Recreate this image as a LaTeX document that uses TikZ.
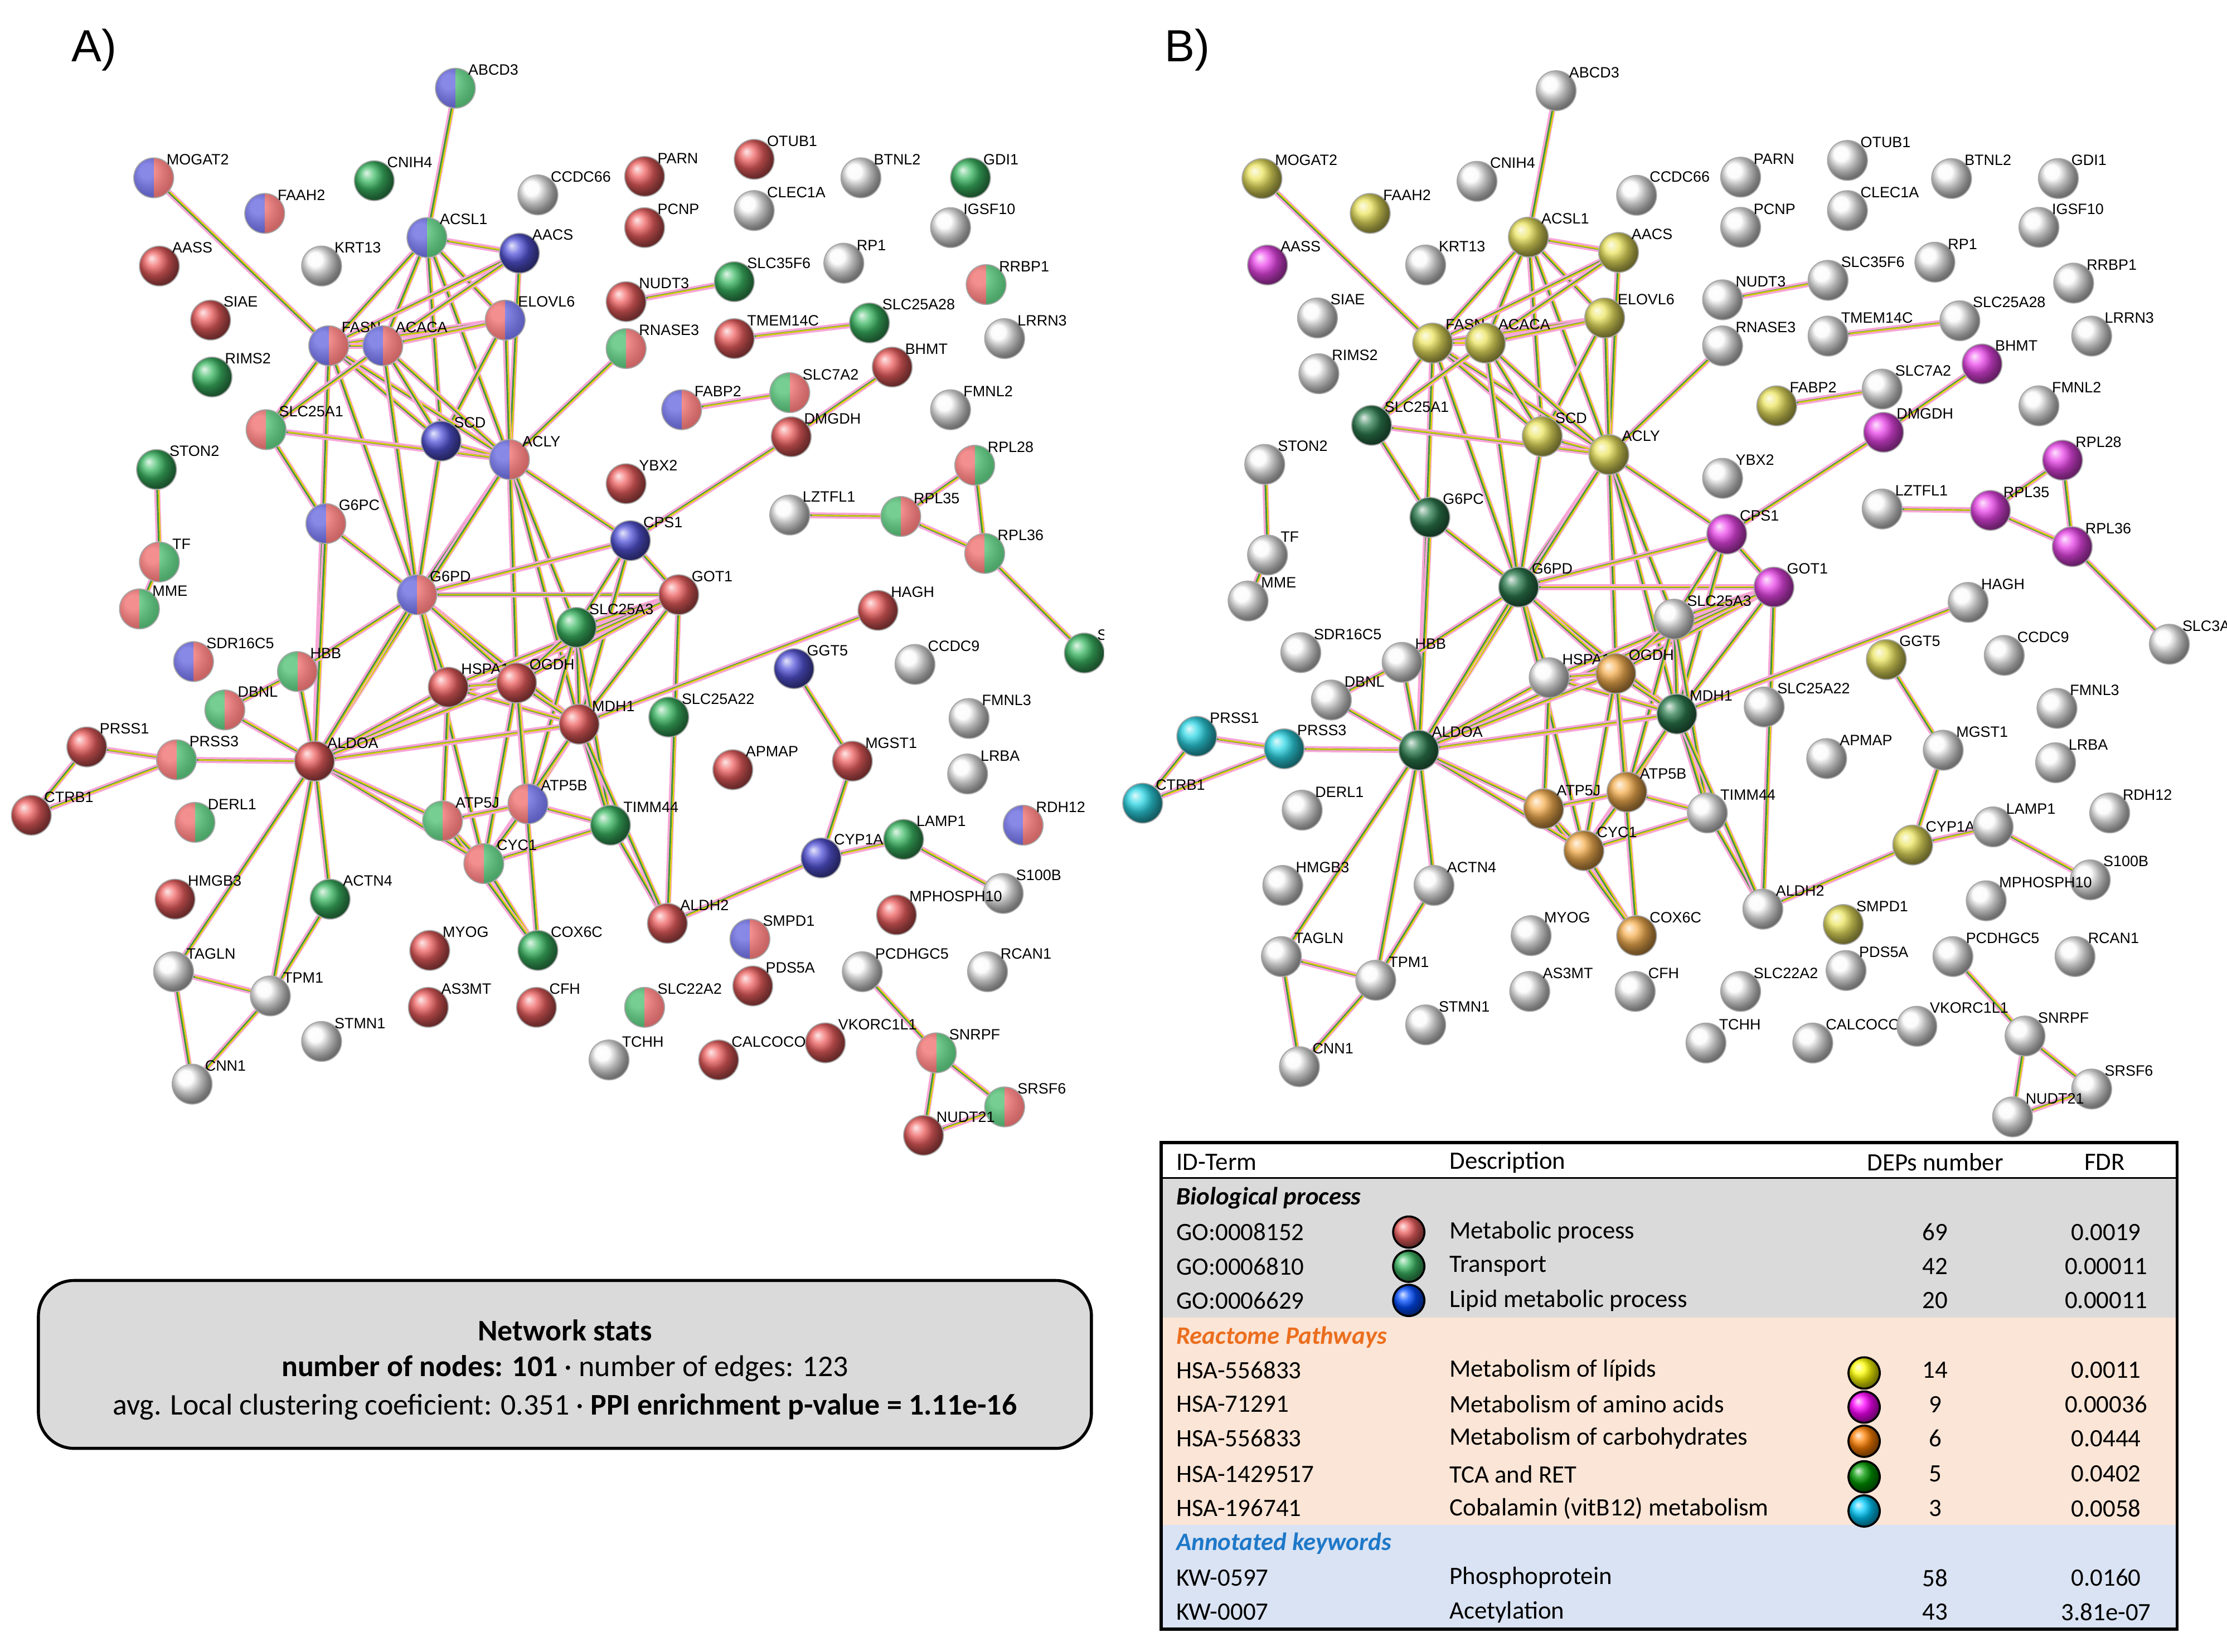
\documentclass[tikz,border=0pt]{standalone}
\usepackage{fontspec}
\setmainfont{Carlito}
\newfontfamily\lab{Liberation Sans}
\usetikzlibrary{backgrounds}
\definecolor{nr}{RGB}{238,95,95}\definecolor{ng}{RGB}{60,185,100}\definecolor{nb}{RGB}{85,85,220}
\definecolor{nw}{RGB}{250,250,250}\definecolor{ny}{RGB}{235,228,95}\definecolor{nm}{RGB}{235,70,235}
\definecolor{no}{RGB}{245,175,80}\definecolor{nd}{RGB}{45,125,80}\definecolor{nc}{RGB}{45,215,230}
\definecolor{bandg}{RGB}{218,218,218}\definecolor{bando}{RGB}{251,229,214}\definecolor{bandb}{RGB}{218,227,243}
\definecolor{reacto}{RGB}{235,110,30}\definecolor{kwb}{RGB}{30,120,200}
\newif\ifB
\tikzset{
 nd/.style={circle,minimum size=0.28cm,inner sep=0pt,draw=gray!70,line width=0.2pt},
 lbl/.style={font=\lab\fontsize{3}{4}\selectfont,anchor=south west,inner sep=0.5pt},
 edge/.style={draw=green!45!black!75,line width=0.35pt,preaction={draw=magenta!35,line width=1.2pt},
   postaction={draw=yellow!70!olive,line width=0.25pt,transform canvas={xshift=0.3pt}}},
 sp/.style 2 args={path picture={\fill[#1] (path picture bounding box.south west) rectangle (path picture bounding box.north);
   \fill[#2] (path picture bounding box.north) rectangle (path picture bounding box.south east);
   \shade[ball color=white,opacity=0.3] (path picture bounding box.center) circle (0.14cm);}},
 kr/.style={ball color=nr},kg/.style={ball color=ng},kb/.style={ball color=nb},kw/.style={ball color=nw},
 ky/.style={ball color=ny},km/.style={ball color=nm},ko/.style={ball color=no},kd/.style={ball color=nd},kc/.style={ball color=nc},
 krg/.style={sp={nr}{ng}},kgr/.style={sp={ng}{nr}},krb/.style={sp={nr}{nb}},kbr/.style={sp={nb}{nr}},
 kbg/.style={sp={nb}{ng}},kgb/.style={sp={ng}{nb}},
 tcirc/.style={circle,minimum size=0.22cm,inner sep=0pt,draw=black,line width=0.4pt},
 trow/.style={font=\fontsize{5}{6}\selectfont,anchor=west,inner sep=0pt},
 tnum/.style={font=\fontsize{5}{6}\selectfont,inner sep=0pt}
}
\newcommand\pf{a}
\newcommand\nn[6]{\ifB\node[nd,k#6] (\pf#1) at (#2,#3){};\else\node[nd,k#5] (\pf#1) at (#2,#3){};\fi
 \node[lbl] at ([xshift=-1pt,yshift=-1pt]\pf#1.north east) {#4};}
\newcommand\network{%
\nn{ABCD3}{320}{62}{ABCD3}{bg}{w}
\nn{MOGAT2}{108}{125}{MOGAT2}{br}{y}
\nn{CNIH4}{263}{127}{CNIH4}{g}{w}
\nn{CCDC66}{378}{137}{CCDC66}{w}{w}
\nn{PARN}{453}{124}{PARN}{r}{w}
\nn{OTUB1}{530}{112}{OTUB1}{r}{w}
\nn{BTNL2}{605}{125}{BTNL2}{w}{w}
\nn{GDI1}{682}{125}{GDI1}{g}{w}
\nn{FAAH2}{186}{150}{FAAH2}{br}{y}
\nn{KRT13}{226}{187}{KRT13}{w}{w}
\nn{ACSL1}{300}{167}{ACSL1}{bg}{y}
\nn{AACS}{365}{178}{AACS}{b}{y}
\nn{PCNP}{453}{160}{PCNP}{r}{w}
\nn{CLEC1A}{530}{148}{CLEC1A}{w}{w}
\nn{IGSF10}{668}{160}{IGSF10}{w}{w}
\nn{AASS}{112}{187}{AASS}{r}{m}
\nn{RP1}{593}{185}{RP1}{w}{w}
\nn{SLC35F6}{516}{198}{SLC35F6}{g}{w}
\nn{RRBP1}{693}{200}{RRBP1}{rg}{w}
\nn{NUDT3}{440}{212}{NUDT3}{r}{w}
\nn{SIAE}{148}{225}{SIAE}{r}{w}
\nn{ELOVL6}{355}{225}{ELOVL6}{rb}{y}
\nn{TMEM14C}{516}{238}{TMEM14C}{r}{w}
\nn{SLC25A28}{611}{227}{SLC25A28}{g}{w}
\nn{LRRN3}{706}{238}{LRRN3}{w}{w}
\nn{FASN}{231}{243}{FASN}{br}{y}
\nn{ACACA}{269}{243}{ACACA}{br}{y}
\nn{RIMS2}{149}{265}{RIMS2}{g}{w}
\nn{RNASE3}{440}{245}{RNASE3}{gr}{w}
\nn{BHMT}{627}{258}{BHMT}{r}{m}
\nn{FABP2}{479}{288}{FABP2}{br}{y}
\nn{SLC7A2}{555}{276}{SLC7A2}{gr}{w}
\nn{FMNL2}{668}{288}{FMNL2}{w}{w}
\nn{SLC25A1}{187}{302}{SLC25A1}{rg}{d}
\nn{SCD}{310}{310}{SCD}{b}{y}
\nn{ACLY}{358}{323}{ACLY}{br}{y}
\nn{DMGDH}{556}{307}{DMGDH}{r}{m}
\nn{STON2}{110}{330}{STON2}{g}{w}
\nn{RPL28}{685}{327}{RPL28}{rg}{m}
\nn{YBX2}{440}{340}{YBX2}{r}{w}
\nn{LZTFL1}{555}{362}{LZTFL1}{w}{w}
\nn{RPL35}{633}{363}{RPL35}{gr}{m}
\nn{G6PC}{229}{368}{G6PC}{br}{d}
\nn{RPL36}{692}{389}{RPL36}{rg}{m}
\nn{CPS1}{443}{380}{CPS1}{b}{m}
\nn{TF}{112}{395}{TF}{rg}{w}
\nn{MME}{98}{428}{MME}{rg}{w}
\nn{G6PD}{293}{418}{G6PD}{br}{d}
\nn{GOT1}{477}{418}{GOT1}{r}{m}
\nn{SLC25A3}{405}{441}{SLC25A3}{g}{w}
\nn{HAGH}{617}{429}{HAGH}{r}{w}
\nn{SDR16C5}{136}{465}{SDR16C5}{br}{w}
\nn{HBB}{209}{472}{HBB}{gr}{w}
\nn{HSPA1A}{315}{483}{HSPA1A}{r}{w}
\nn{OGDH}{363}{480}{OGDH}{r}{o}
\nn{GGT5}{558}{470}{GGT5}{b}{y}
\nn{CCDC9}{643}{467}{CCDC9}{w}{w}
\nn{DBNL}{158}{499}{DBNL}{gr}{w}
\nn{MDH1}{407}{509}{MDH1}{r}{d}
\nn{SLC25A22}{470}{504}{SLC25A22}{g}{w}
\nn{FMNL3}{681}{505}{FMNL3}{w}{w}
\nn{PRSS1}{61}{525}{PRSS1}{r}{c}
\nn{PRSS3}{124}{534}{PRSS3}{rg}{c}
\nn{ALDOA}{221}{535}{ALDOA}{r}{d}
\nn{APMAP}{515}{541}{APMAP}{r}{w}
\nn{MGST1}{599}{535}{MGST1}{r}{w}
\nn{LRBA}{680}{544}{LRBA}{w}{w}
\nn{CTRB1}{22}{573}{CTRB1}{r}{c}
\nn{DERL1}{137}{578}{DERL1}{rg}{w}
\nn{ATP5J}{311}{577}{ATP5J}{gr}{o}
\nn{ATP5B}{371}{565}{ATP5B}{rb}{o}
\nn{TIMM44}{429}{580}{TIMM44}{g}{w}
\nn{CYP1A1}{577}{603}{CYP1A1}{b}{y}
\nn{LAMP1}{635}{590}{LAMP1}{g}{w}
\nn{RDH12}{719}{580}{RDH12}{br}{w}
\nn{HMGB3}{123}{632}{HMGB3}{r}{w}
\nn{ACTN4}{232}{632}{ACTN4}{g}{w}
\nn{CYC1}{340}{607}{CYC1}{rg}{o}
\nn{ALDH2}{469}{649}{ALDH2}{r}{w}
\nn{S100B}{705}{628}{S100B}{w}{w}
\nn{MPHOSPH10}{630}{643}{MPHOSPH10}{r}{w}
\nn{SMPD1}{527}{660}{SMPD1}{br}{y}
\nn{MYOG}{302}{668}{MYOG}{r}{w}
\nn{COX6C}{378}{668}{COX6C}{g}{o}
\nn{TAGLN}{122}{683}{TAGLN}{w}{w}
\nn{TPM1}{190}{700}{TPM1}{w}{w}
\nn{PCDHGC5}{606}{683}{PCDHGC5}{w}{w}
\nn{RCAN1}{694}{683}{RCAN1}{w}{w}
\nn{AS3MT}{301}{708}{AS3MT}{r}{w}
\nn{CFH}{377}{708}{CFH}{r}{w}
\nn{SLC22A2}{453}{708}{SLC22A2}{gr}{w}
\nn{PDS5A}{529}{693}{PDS5A}{r}{w}
\nn{STMN1}{226}{732}{STMN1}{w}{w}
\nn{TCHH}{428}{745}{TCHH}{w}{w}
\nn{CALCOCO1}{505}{745}{CALCOCO1}{r}{w}
\nn{VKORC1L1}{580}{733}{VKORC1L1}{r}{w}
\nn{SNRPF}{658}{740}{SNRPF}{rg}{w}
\nn{CNN1}{135}{762}{CNN1}{w}{w}
\nn{SRSF6}{706}{778}{SRSF6}{gr}{w}
\nn{NUDT21}{649}{798}{NUDT21}{r}{w}
\nn{SLCX}{762}{459}{SLC3A2}{g}{w}
\begin{scope}[on background layer]
\foreach \u/\v in {ABCD3/ACSL1,MOGAT2/FASN,ACSL1/FASN,ACSL1/ACACA,ACSL1/SCD,ACSL1/ACLY,ACSL1/AACS,ACSL1/ELOVL6,
 AACS/FASN,AACS/ACACA,AACS/ACLY,ELOVL6/FASN,ELOVL6/ACACA,ELOVL6/SCD,ELOVL6/ACLY,FASN/ACACA,FASN/SCD,FASN/ACLY,
 FASN/SLC25A1,FASN/G6PD,FASN/ALDOA,ACACA/SCD,ACACA/ACLY,ACACA/SLC25A1,ACACA/G6PD,SCD/ACLY,SCD/G6PD,ACLY/G6PD,
 ACLY/SLC25A1,ACLY/RNASE3,ACLY/ALDOA,ACLY/MDH1,ACLY/OGDH,ACLY/CPS1,ACLY/SLC25A3,SLC25A1/G6PC,G6PC/G6PD,G6PC/ALDOA,
 G6PD/ALDOA,G6PD/GOT1,G6PD/MDH1,G6PD/OGDH,G6PD/HSPA1A,G6PD/CYC1,G6PD/CPS1,CPS1/GOT1,CPS1/SLC25A3,CPS1/MDH1,
 CPS1/DMGDH,GOT1/SLC25A3,GOT1/MDH1,GOT1/OGDH,GOT1/HSPA1A,GOT1/ALDOA,GOT1/ALDH2,SLC25A3/OGDH,SLC25A3/MDH1,
 SLC25A3/ATP5B,SLC25A3/TIMM44,HSPA1A/OGDH,HSPA1A/ALDOA,HSPA1A/MDH1,HSPA1A/ATP5J,OGDH/MDH1,OGDH/ATP5B,OGDH/CYC1,
 OGDH/ALDOA,MDH1/ALDOA,MDH1/HAGH,MDH1/ATP5B,MDH1/TIMM44,MDH1/CYC1,ATP5J/ATP5B,ATP5J/CYC1,ATP5B/CYC1,ATP5B/TIMM44,
 CYC1/COX6C,CYC1/TIMM44,ATP5J/COX6C,CYC1/ALDOA,COX6C/OGDH,TIMM44/ALDH2,ALDH2/MDH1,ALDH2/CYP1A1,CYP1A1/MGST1,
 CYP1A1/LAMP1,MGST1/GGT5,LAMP1/S100B,ALDOA/HBB,ALDOA/ACTN4,ALDOA/TPM1,ALDOA/TAGLN,ALDOA/PRSS3,ALDOA/DBNL,
 ALDOA/ATP5J,HBB/DBNL,HBB/G6PD,PRSS1/PRSS3,PRSS1/CTRB1,PRSS3/CTRB1,TAGLN/TPM1,TAGLN/CNN1,TPM1/CNN1,STON2/TF,
 TF/MME,FABP2/SLC7A2,DMGDH/BHMT,LZTFL1/RPL35,RPL35/RPL28,RPL35/RPL36,RPL28/RPL36,RPL36/SLCX,NUDT3/SLC35F6,
 TMEM14C/SLC25A28,SNRPF/SRSF6,SNRPF/NUDT21,NUDT21/SRSF6,PCDHGC5/SNRPF,ACTN4/TPM1}
 \draw[edge] (\pf\u) -- (\pf\v);
\end{scope}}
\begin{document}
\begin{tikzpicture}[x=0.01cm,y=-0.01cm]
\useasboundingbox (0,0) rectangle (1565,1161);
\node[font=\lab\fontsize{9}{10}\selectfont,anchor=west] at (38,35) {A)};
\node[font=\lab\fontsize{9}{10}\selectfont,anchor=west] at (806,35) {B)};
\begin{scope}
\clip (0,40) rectangle (776,830);
\renewcommand\pf{a}\Bfalse\network
\end{scope}
\begin{scope}[shift={(781.55,3)},xscale=0.975,yscale=0.98]
\renewcommand\pf{b}\Btrue\network
\end{scope}
% stats box
\draw[fill=bandg,rounded corners=0.25cm,line width=0.6pt] (27,900) rectangle (767,1018);
\node[font=\fontsize{6}{7}\selectfont\bfseries] at (397,935) {Network stats};
\node[font=\fontsize{6}{7}\selectfont] at (397,962) {\textbf{number of nodes: 101} · number of edges: 123};
\node[font=\fontsize{6}{7}\selectfont] at (397,989) {avg. Local clustering coeficient: 0.351 · \textbf{PPI enrichment p-value = 1.11e-16}};
% table
\fill[bandg] (816,828) rectangle (1530,926);
\fill[bando] (816,926) rectangle (1530,1072);
\fill[bandb] (816,1072) rectangle (1530,1145);
\draw[line width=0.6pt] (816,803) rectangle (1530,1145);
\draw[line width=0.4pt] (816,828) -- (1530,828);
\node[trow] at (826,817) {ID-Term};
\node[trow] at (1018,817) {Description};
\node[tnum] at (1360,817) {DEPs number};
\node[tnum] at (1479,817) {FDR};
\node[trow,font=\fontsize{5}{6}\selectfont\bfseries\itshape] at (826,842) {Biological process};
\node[trow,text=reacto,font=\fontsize{5}{6}\selectfont\bfseries\itshape] at (826,940) {Reactome Pathways};
\node[trow,text=kwb,font=\fontsize{5}{6}\selectfont\bfseries\itshape] at (826,1085) {Annotated keywords};
\foreach \id/\de/\n/\f/\yy in {GO:0008152/Metabolic process/69/0.0019/866,GO:0006810/Transport/42/0.00011/890,
 GO:0006629/Lipid metabolic process/20/0.00011/914,HSA-556833/Metabolism of lípids/14/0.0011/963,
 HSA-71291/Metabolism of amino acids/9/0.00036/987,HSA-556833/Metabolism of carbohydrates/6/0.0444/1011,
 HSA-1429517/TCA and RET/5/0.0402/1036,HSA-196741/Cobalamin (vitB12) metabolism/3/0.0058/1060,
 KW-0597/Phosphoprotein/58/0.0160/1109,KW-0007/Acetylation/43/3.81e-07/1133}
 {\node[trow] at (826,\yy) {\id}; \node[trow] at (1018,\yy) {\de};
  \node[tnum] at (1360,\yy) {\n}; \node[tnum] at (1480,\yy) {\f};}
\node[tcirc,ball color=nr] (c1) at (990,866) {};
\node[tcirc,ball color=ng] (c2) at (990,890) {};
\node[tcirc,ball color=blue!70!cyan] (c3) at (990,914) {};
\node[tcirc,ball color=yellow] (c4) at (1310,965) {};
\node[tcirc,ball color=magenta] (c5) at (1310,989) {};
\node[tcirc,ball color=orange] (c6) at (1310,1013) {};
\node[tcirc,ball color=green!60!black] (c7) at (1310,1038) {};
\node[tcirc,ball color=cyan!80!blue] (c8) at (1310,1062) {};
\end{tikzpicture}
\end{document}
